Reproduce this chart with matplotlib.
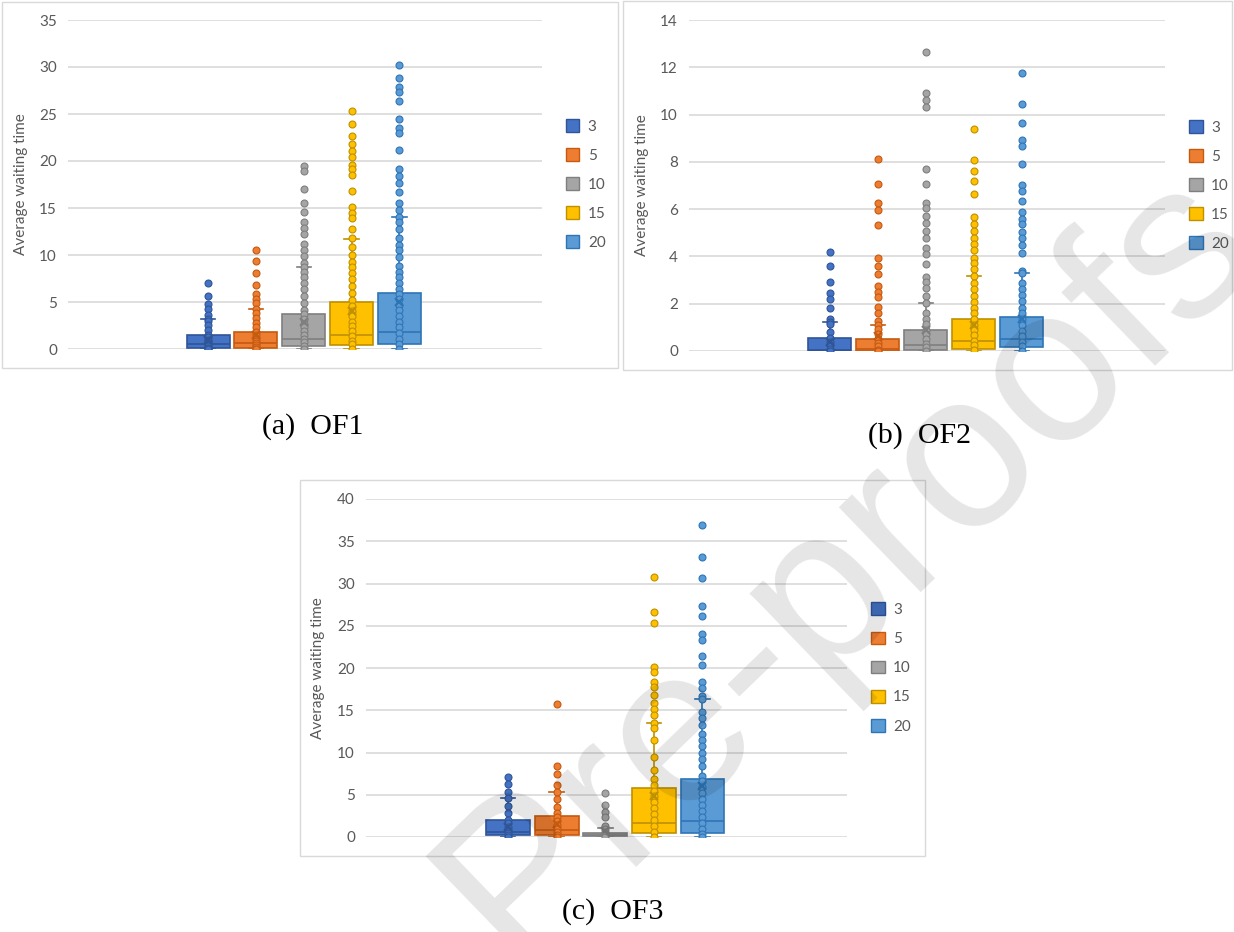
import numpy as np
import matplotlib
matplotlib.use("Agg")
import matplotlib.pyplot as plt
from matplotlib.patches import Patch, Rectangle

# - DATA - #
groups = ["3", "5", "10", "15", "20"]
fills = ["#4472C4", "#ED7D31", "#A5A5A5", "#FFC000", "#5B9BD5"]
edges = ["#2F5597", "#C55A11", "#7F7F7F", "#BF9000", "#2E75B6"]

# OF1 - points per group
of1_pts = [
    [7.0, 5.6, 4.8, 4.25, 3.6, 3.2, 3.0, 2.55, 2.0, 1.5, 1.25, 1.0, 0.8, 0.6, 0.45, 0.3, 0.15, 0.05, 0.0],
    [10.5, 9.4, 8.1, 6.8, 5.8, 5.35, 4.85, 4.25, 3.8, 3.25, 2.75, 2.3, 1.85, 1.5, 1.2, 0.9, 0.65, 0.4, 0.2, 0.05, 0.0],
    [19.5, 18.9, 17.0, 15.5, 14.6, 13.5, 12.9, 12.2, 11.2, 10.5, 9.9, 9.2, 8.7, 8.2, 7.7, 7.05, 6.4, 5.6, 4.9,
     4.2, 3.7, 3.2, 2.7, 2.3, 1.9, 1.5, 1.1, 0.7, 0.35, 0.05],
    [25.3, 23.9, 22.7, 21.8, 21.1, 20.4, 19.6, 19.1, 18.5, 16.8, 15.1, 14.5, 13.9, 12.8, 11.8, 10.8, 10.0, 9.3,
     8.7, 8.05, 7.4, 6.7, 6.0, 5.2, 4.6, 4.0, 3.5, 2.9, 2.4, 1.9, 1.4, 0.9, 0.5, 0.05],
    [30.2, 28.8, 27.9, 27.3, 26.4, 24.5, 23.5, 23.0, 21.2, 19.1, 18.4, 17.7, 16.7, 15.5, 14.8, 14.0, 13.5, 12.8,
     11.8, 11.1, 10.5, 9.8, 8.8, 8.2, 7.7, 7.05, 6.4, 5.9, 5.3, 4.7, 4.1, 3.5, 2.9, 2.3, 1.7, 1.1, 0.5, 0.05],
]
of1_q1 = [0.14, 0.14, 0.32, 0.43, 0.5]
of1_med = [0.53, 0.67, 1.06, 1.49, 1.84]
of1_q3 = [1.49, 1.84, 3.69, 4.97, 5.92]
of1_hi = [3.2, 4.26, 8.7, 11.75, 14.0]
of1_mean = [0.95, 1.45, 2.9, 4.0, 5.0]

# OF2
of2_pts = [
    [4.2, 3.6, 2.9, 2.45, 2.2, 1.8, 1.37, 1.24, 1.13, 0.8, 0.55, 0.4, 0.25, 0.1, 0.0],
    [8.1, 7.05, 6.25, 5.95, 5.35, 3.93, 3.6, 3.25, 2.75, 2.5, 2.27, 1.87, 1.6, 1.27, 1.11, 0.92, 0.72, 0.52,
     0.35, 0.2, 0.05, 0.0],
    [12.65, 10.9, 10.6, 10.3, 7.7, 7.05, 6.25, 6.05, 5.7, 5.43, 5.08, 4.77, 4.37, 4.1, 3.7, 3.14, 2.9, 2.65,
     2.33, 2.03, 1.62, 1.34, 1.13, 0.9, 0.7, 0.5, 0.3, 0.15, 0.02],
    [9.4, 8.08, 7.6, 7.2, 6.63, 5.68, 5.37, 5.08, 4.77, 4.53, 4.27, 3.95, 3.71, 3.46, 3.17, 2.89, 2.61, 2.33,
     2.09, 1.83, 1.59, 1.34, 1.1, 0.88, 0.66, 0.44, 0.24, 0.04],
    [11.77, 10.43, 9.64, 8.93, 8.67, 7.92, 7.02, 6.78, 6.36, 5.88, 5.58, 5.36, 5.02, 4.79, 4.48, 4.15, 3.4,
     3.29, 2.89, 2.61, 2.36, 2.12, 1.83, 1.59, 1.35, 1.1, 0.86, 0.62, 0.4, 0.2, 0.02],
]
of2_q1 = [0.01, 0.01, 0.03, 0.08, 0.16]
of2_med = [0.05, 0.1, 0.25, 0.44, 0.49]
of2_q3 = [0.54, 0.51, 0.89, 1.34, 1.42]
of2_hi = [1.24, 1.11, 2.03, 3.17, 3.29]
of2_mean = [0.4, 0.65, 0.9, 1.1, 1.35]

# OF3
of3_pts = [
    [7.06, 6.23, 5.36, 4.58, 3.67, 2.8, 2.01, 1.6, 1.2, 0.85, 0.5, 0.2, 0.0],
    [15.74, 8.44, 7.46, 6.19, 5.36, 4.5, 3.51, 2.8, 2.33, 1.9, 1.45, 1.0, 0.6, 0.25, 0.0],
    [5.24, 3.79, 2.99, 2.33, 1.3, 1.0, 0.6, 0.3, 0.05],
    [30.8, 26.6, 25.3, 20.15, 19.5, 18.4, 17.7, 16.8, 15.8, 15.15, 14.4, 13.45, 12.86, 11.44, 9.43, 7.93,
     6.86, 6.15, 5.5, 4.8, 4.1, 3.4, 2.7, 2.0, 1.3, 0.6, 0.0],
    [36.9, 33.1, 30.6, 27.3, 26.2, 24.0, 23.3, 21.4, 20.35, 18.3, 17.6, 16.7, 16.3, 14.8, 14.05, 13.25, 12.15,
     11.5, 10.8, 10.0, 9.23, 8.4, 7.26, 6.6, 5.9, 5.2, 4.5, 3.8, 3.1, 2.4, 1.7, 1.0, 0.4, 0.0],
]
of3_q1 = [0.24, 0.24, 0.06, 0.43, 0.43]
of3_med = [0.63, 0.83, 0.2, 1.62, 1.89]
of3_q3 = [2.01, 2.49, 0.52, 5.76, 6.86]
of3_hi = [4.58, 5.36, 1.03, 13.45, 16.3]
of3_mean = [1.2, 1.5, 0.75, 4.8, 6.0]

grey = "#595959"
grid_c = "#D9D9D9"
plt.rcParams["font.family"] = ["Lato", "DejaVu Sans"]


def panel(ax, pts, q1, med, q3, hi, mean, ymax, ystep):
    pos = np.arange(1, len(groups) + 1)
    stats = []
    for i in range(len(groups)):
        stats.append(dict(q1=q1[i], med=med[i], q3=q3[i], whislo=0.0, whishi=hi[i],
                          mean=mean[i], fliers=[]))
    bp = ax.bxp(stats, positions=pos, widths=0.9, capwidths=0.3, patch_artist=True,
                showmeans=True, showfliers=False, manage_ticks=False)
    for i in range(len(groups)):
        bp["boxes"][i].set(facecolor=fills[i], edgecolor=edges[i], linewidth=1.2, zorder=2)
        bp["medians"][i].set(color=edges[i], linewidth=1.2, zorder=2.5)
        for w in bp["whiskers"][2 * i:2 * i + 2] + bp["caps"][2 * i:2 * i + 2]:
            w.set(color=edges[i], linewidth=1.2, zorder=1.5)
        bp["means"][i].set(marker="x", markeredgecolor=edges[i], markersize=6,
                           markeredgewidth=1.6, zorder=5)
        ax.plot(np.full(len(pts[i]), pos[i]), pts[i], "o", ms=5, mfc=fills[i],
                mec=edges[i], mew=0.8, zorder=4)
    ax.set_xlim(-1.93, 7.98)
    ax.set_ylim(0, ymax)
    ax.set_yticks(np.arange(0, ymax + 0.1, ystep))
    ax.set_xticks([])
    ax.yaxis.grid(True, color=grid_c, linewidth=1.2)
    ax.set_axisbelow(True)
    for s in ax.spines.values():
        s.set_visible(False)
    ax.tick_params(axis="y", length=0, pad=8, labelsize=11, labelcolor=grey)
    ax.set_ylabel("Average waiting time", fontsize=11, color=grey)
    ax.yaxis.set_label_coords(-0.085, 0.5)
    handles = [Patch(facecolor=fills[i], edgecolor=edges[i], linewidth=1) for i in range(len(groups))]
    ax.legend(handles, groups, loc="center left", bbox_to_anchor=(1.05, 0.5), frameon=False,
              fontsize=11, labelcolor=grey, borderpad=0, borderaxespad=0, handlelength=0.9,
              handleheight=0.9, handletextpad=0.55, labelspacing=0.95)


fig = plt.figure(figsize=(12.34, 9.32), dpi=100)
W, H = 1234.0, 932.0


def rect(x0, y0, x1, y1):
    return [x0 / W, 1 - y1 / H, (x1 - x0) / W, (y1 - y0) / H]


ax1 = fig.add_axes(rect(68, 20, 542, 349))
panel(ax1, of1_pts, of1_q1, of1_med, of1_q3, of1_hi, of1_mean, 35, 5)
ax2 = fig.add_axes(rect(689, 20, 1165, 351))
panel(ax2, of2_pts, of2_q1, of2_med, of2_q3, of2_hi, of2_mean, 14, 2)
ax3 = fig.add_axes(rect(366, 499, 847, 837))
panel(ax3, of3_pts, of3_q1, of3_med, of3_q3, of3_hi, of3_mean, 40, 5)

# chart frames
for x0, y0, x1, y1 in [(2, 2, 618, 368), (623, 1, 1232, 370), (300, 480, 925, 856)]:
    r = rect(x0, y0, x1, y1)
    fig.add_artist(Rectangle((r[0], r[1]), r[2], r[3], transform=fig.transFigure,
                             fill=False, edgecolor=grid_c, linewidth=1))

# captions
cap_font = dict(fontsize=21.5, family="Liberation Serif", ha="center", va="center", color="black")
fig.text(313 / W, 1 - 427 / H, "(a)  OF1", **cap_font)
fig.text(919 / W, 1 - 436 / H, "(b)  OF2", **cap_font)
fig.text(613 / W, 1 - 912 / H, "(c)  OF3", **cap_font)

# watermark
fig.text(848 / W, 1 - 565 / H, "Pre-proofs", fontsize=160, family="Liberation Sans",
         rotation=44, ha="center", va="center", rotation_mode="anchor",
         color="black", alpha=0.1, zorder=10)

fig.savefig("out.png", dpi=100)
